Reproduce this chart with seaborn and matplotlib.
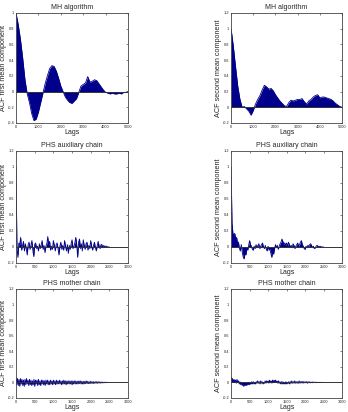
import numpy as np
import pandas as pd
import matplotlib
matplotlib.use('Agg')
import matplotlib.pyplot as plt
import seaborn as sns

# MH algorithm, lags every 100 up to 5000
mh_lags = list(range(0, 5001, 100))
mh_first = [1.0, 0.85, 0.66, 0.42, 0.15, -0.03, -0.14, -0.28, -0.37, -0.35,
            -0.26, -0.14, -0.02, 0.10, 0.20, 0.29, 0.33, 0.32, 0.26, 0.17,
            0.07, 0.0, -0.07, -0.11, -0.14, -0.15, -0.12, -0.09, -0.01, 0.07,
            0.09, 0.11, 0.19, 0.12, 0.13, 0.15, 0.14, 0.10, 0.06, 0.02,
            -0.01, -0.02, -0.03, -0.02, -0.03, -0.03, -0.02, -0.03, -0.01, -0.01,
            0.0]
mh_second = [1.0, 0.78, 0.52, 0.27, 0.10, 0.0, 0.01, -0.02, -0.05, -0.10,
             -0.04, 0.04, 0.10, 0.15, 0.22, 0.28, 0.26, 0.23, 0.24, 0.21,
             0.16, 0.12, 0.08, 0.05, 0.02, 0.01, 0.06, 0.09, 0.08, 0.09,
             0.10, 0.10, 0.11, 0.07, 0.04, 0.08, 0.10, 0.13, 0.15, 0.16,
             0.12, 0.13, 0.13, 0.12, 0.11, 0.10, 0.08, 0.05, 0.03, 0.01,
             0.0]

# PHS auxiliary chain, lags every 25 up to 2500
aux_lags = list(range(0, 2501, 25))
aux_first = [1.0, -0.02, -0.13, 0.05, 0.03, 0.12, -0.04, 0.02, 0.07, -0.05,
             0.04, -0.02, -0.10, 0.03, 0.06, -0.03, 0.02, 0.08, -0.04, -0.12,
             0.03, 0.05, -0.02, 0.01, -0.05, 0.04, -0.02, 0.03, 0.08, -0.03,
             0.02, -0.07, 0.01, 0.04, 0.13, 0.02, 0.07, -0.04, 0.01, -0.03,
             0.08, 0.02, -0.05, 0.03, 0.05, -0.02, -0.10, 0.01, 0.06, -0.03,
             0.02, -0.04, 0.08, 0.01, -0.05, 0.03, -0.08, 0.02, -0.03, 0.04,
             0.09, -0.02, 0.01, 0.05, 0.12, 0.03, -0.13, 0.06, 0.10, -0.02,
             0.04, -0.05, 0.09, 0.02, -0.03, 0.04, 0.06, -0.04, 0.02, -0.02,
             0.08, 0.01, -0.04, 0.02, 0.06, -0.01, -0.05, 0.02, 0.07, 0.01,
             -0.02, 0.03, 0.03, -0.01, 0.02, 0.0, 0.01, 0.01, 0.0, 0.0,
             0.0]
aux_second = [1.0, 0.30, 0.17, 0.15, 0.17, 0.10, 0.12, 0.05, 0.06, -0.02,
              -0.05, 0.03, -0.06, -0.12, -0.15, -0.08, -0.10, -0.02, -0.04, 0.02,
              0.08, 0.03, 0.01, -0.03, -0.04, 0.01, -0.02, 0.03, -0.01, 0.02,
              0.04, -0.02, 0.01, 0.03, 0.05, 0.0, -0.02, 0.02, -0.03, -0.05,
              0.01, -0.04, -0.02, -0.08, -0.13, -0.06, -0.09, -0.02, 0.03, -0.01,
              0.02, -0.03, 0.01, 0.04, 0.06, 0.10, 0.07, 0.03, 0.05, 0.02,
              0.05, 0.01, 0.06, 0.03, 0.0, 0.02, -0.01, 0.04, 0.02, -0.02,
              0.01, 0.03, 0.05, 0.01, 0.03, 0.06, 0.08, 0.03, 0.01, -0.02,
              -0.03, 0.01, -0.01, 0.02, 0.01, 0.03, 0.04, 0.02, -0.01, 0.01,
              -0.02, -0.01, 0.01, 0.02, 0.01, 0.0, 0.01, 0.005, 0.0, 0.0,
              0.0]

# PHS mother chain, lags every 20 up to 2500
mother_lags = list(range(0, 2501, 20))
mother_first = [0.06, -0.03, 0.05, -0.04, 0.04, -0.05, 0.05, -0.02, 0.04, -0.04,
                0.03, -0.05, 0.04, -0.03, 0.05, -0.02, 0.03, -0.04, 0.04, -0.03,
                0.03, -0.04, 0.02, -0.03, 0.04, -0.05, 0.03, -0.02, 0.03, -0.04,
                0.04, -0.03, 0.02, -0.04, 0.03, -0.02, 0.03, -0.03, 0.02, -0.04,
                0.03, -0.02, 0.03, -0.03, 0.02, -0.03, 0.03, -0.02, 0.02, -0.03,
                0.03, -0.02, 0.02, -0.03, 0.03, -0.02, 0.02, -0.02, 0.03, -0.02,
                0.02, -0.03, 0.02, -0.02, 0.03, -0.02, 0.02, -0.03, 0.02, -0.02,
                0.02, -0.02, 0.02, -0.02, 0.02, -0.03, 0.02, -0.02, 0.02, -0.02,
                0.02, -0.02, 0.015, -0.02, 0.02, -0.015, 0.02, -0.02, 0.015, -0.02,
                0.015, -0.02, 0.015, -0.015, 0.02, -0.015, 0.015, -0.015, 0.01, -0.015,
                0.015, -0.01, 0.01, -0.015, 0.01, -0.01, 0.01, -0.01, 0.01, -0.01,
                0.01, -0.008, 0.008, -0.008, 0.006, -0.006, 0.005, -0.005, 0.004, -0.004,
                0.003, -0.003, 0.002, -0.002, 0.001, 0.0]
mother_second = [0.07, 0.02, 0.05, 0.0, 0.04, 0.01, 0.03, -0.01, 0.04, 0.0,
                 0.02, -0.02, 0.01, -0.03, 0.0, -0.04, -0.01, -0.05, -0.02, -0.04,
                 -0.01, -0.04, -0.01, -0.03, 0.0, -0.03, 0.0, -0.02, 0.01, -0.02,
                 0.01, -0.02, 0.0, -0.02, 0.01, -0.01, 0.02, -0.01, 0.01, -0.02,
                 0.02, -0.01, 0.01, -0.02, 0.0, -0.01, 0.02, -0.01, 0.02, 0.0,
                 0.02, -0.01, 0.03, 0.0, 0.02, -0.01, 0.03, 0.0, 0.03, 0.0,
                 0.03, 0.0, 0.02, -0.01, 0.02, -0.01, 0.01, -0.02, 0.01, -0.02,
                 0.01, -0.02, 0.0, -0.02, 0.01, -0.02, 0.0, -0.01, 0.01, -0.02,
                 0.01, -0.01, 0.02, -0.01, 0.01, -0.01, 0.02, -0.01, 0.01, -0.01,
                 0.01, -0.01, 0.02, -0.01, 0.01, -0.005, 0.015, -0.01, 0.01, -0.005,
                 0.01, -0.005, 0.01, -0.01, 0.01, -0.005, 0.008, -0.005, 0.006, -0.004,
                 0.006, -0.004, 0.005, -0.003, 0.004, -0.003, 0.003, -0.002, 0.002, -0.002,
                 0.002, -0.001, 0.001, -0.001, 0.0, 0.0]

titles = ['MH algorithm', 'PHS auxiliary chain', 'PHS mother chain']
ylabels = ['ACF first mean component', 'ACF second mean component']

sns.set_style('white')
plt.rcParams['font.family'] = ['Liberation Sans', 'DejaVu Sans']

fig = plt.figure(figsize=(3.48, 4.12), dpi=100)

fill_col = '#00008b'
col_left = [0.046, 0.664]
col_w = [0.322, 0.319]
row_bottom = [0.7015, 0.3617, 0.034]
row_h = [0.267, 0.272, 0.2646]

panels = [
    (0, 0, mh_lags, mh_first, (-0.4, 1.0), 5000, 1000),
    (0, 1, mh_lags, mh_second, (-0.2, 1.2), 5000, 1000),
    (1, 0, aux_lags, aux_first, (-0.2, 1.2), 3000, 500),
    (1, 1, aux_lags, aux_second, (-0.2, 1.2), 3000, 500),
    (2, 0, mother_lags, mother_first, (-0.2, 1.2), 3000, 500),
    (2, 1, mother_lags, mother_second, (-0.2, 1.2), 3000, 500),
]

for r, c, lags, acf, ylim, xmax, xstep in panels:
    ax = fig.add_axes([col_left[c], row_bottom[r], col_w[c], row_h[r]])
    df = pd.DataFrame({'lag': lags, 'acf': acf})
    ax.fill_between(df['lag'], 0, df['acf'], color=fill_col, lw=0)
    sns.lineplot(data=df, x='lag', y='acf', ax=ax, color=fill_col, lw=0.6)
    ax.axhline(0, color='#333333', lw=0.7)
    ax.set_xlim(0, xmax)
    ax.set_ylim(*ylim)
    ax.set_xticks(np.arange(0, xmax + 1, xstep))
    yt = np.round(np.arange(ylim[0], ylim[1] + 0.01, 0.2), 1)
    ax.set_yticks(yt)
    ax.set_yticklabels(['%g' % v for v in yt])
    ax.tick_params(direction='in', length=1.5, width=0.4, labelsize=2.8,
                   top=True, right=True, pad=1.2)
    for s in ax.spines.values():
        s.set_linewidth(0.6)
        s.set_color('#444444')
    ax.set_title(titles[r], fontsize=5, pad=3)
    ax.set_xlabel('Lags', fontsize=5, labelpad=0)
    ax.set_ylabel(ylabels[c], fontsize=5.2, labelpad=0.5)

fig.savefig('out.png', dpi=100)
